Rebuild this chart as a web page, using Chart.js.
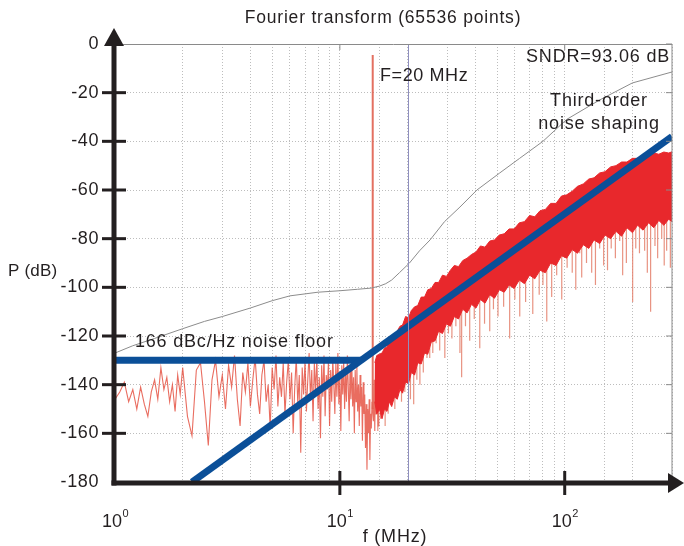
<!DOCTYPE html>
<html>
<head>
<meta charset="utf-8">
<script src="https://cdn.jsdelivr.net/npm/chart.js@4.4.1/dist/chart.umd.min.js"></script>
<style>
  html, body { margin: 0; padding: 0; background: #fff; }
  #wrap { width: 684px; height: 546px; }
</style>
</head>
<body>
<div id="wrap"><canvas id="grafico" width="684" height="546"></canvas></div>
<script>
// spectre basse fréquence (MHz, dB)
const lowFreq = [1.00, 1.05, 1.10, 1.15, 1.20, 1.25, 1.30, 1.35, 1.40, 1.45, 1.50, 1.55, 1.60, 1.65, 1.70, 1.75, 1.80, 1.85, 1.90, 1.95,
  2.0, 2.1, 2.2, 2.3, 2.4, 2.5, 2.6, 2.7, 2.8, 2.9, 3.0, 3.1, 3.2, 3.3, 3.4, 3.5, 3.6, 3.7, 3.8, 3.9,
  4.0, 4.1, 4.2, 4.3, 4.4, 4.5, 4.6, 4.7, 4.8, 4.9, 5.0, 5.1, 5.2, 5.3, 5.4, 5.5, 5.6, 5.7, 5.8, 5.9,
  6.0, 6.1, 6.2, 6.3, 6.4, 6.5, 6.6, 6.7, 6.8, 6.9, 7.0, 7.1, 7.2, 7.3, 7.4, 7.5, 7.6, 7.7, 7.8, 7.9,
  8.0, 8.1, 8.2, 8.3, 8.4, 8.5, 8.6, 8.7, 8.8, 8.9, 9.0, 9.1, 9.2, 9.3, 9.4, 9.5, 9.6, 9.7, 9.8, 9.9,
  10.0, 10.1, 10.2, 10.3, 10.4, 10.5, 10.6, 10.7, 10.8, 10.9, 11.0, 11.1, 11.2, 11.3, 11.4, 11.5, 11.6, 11.7, 11.8, 11.9,
  12.0, 12.1, 12.2, 12.3, 12.4, 12.5, 12.6, 12.7, 12.8, 12.9, 13.0, 13.1, 13.2, 13.3, 13.4, 13.5, 13.6, 13.7, 13.8, 13.9,
  14.1, 14.2, 14.3, 14.4, 14.5, 14.6, 14.7, 14.8, 14.9, 15.0, 15.1, 15.2, 15.3, 15.4, 15.5];
const lowDb = [-146, -143, -139, -147, -142, -150, -141, -148, -153, -143, -138, -146, -133, -142, -137, -147, -140, -151, -136, -144,
  -133, -153, -161, -134, -131, -147, -165, -138, -130, -145, -136, -150, -132, -141, -128, -146, -157, -135, -143, -131,
  -149, -138, -129, -144, -152, -136, -130, -147, -140, -158, -133, -142, -128, -149, -137, -145, -131, -152, -139, -130,
  -146, -135, -160, -141, -129, -148, -136, -168, -133, -144, -130, -151, -138, -127, -146, -134, -155, -131, -143, -129,
  -150, -137, -162, -132, -145, -128, -153, -136, -142, -130, -157, -134, -147, -129, -140, -152, -131, -145, -127, -148,
  -136, -159, -132, -144, -130, -150, -135, -147, -128, -141, -155, -133, -146, -131, -149, -137, -160, -134, -147, -132,
  -151, -140, -157, -136, -149, -141, -163, -139, -152, -144, -166, -148, -175, -150, -160, -146, -171, -152, -158, -147,
  -155, -138, -159, -131, -152, -129, -147, -157, -128, -150, -134, -154, -127, -145, -150];

// raie du signal
const toneFreq = 14.0;
const toneDb = [-150, -4.5];

// bande de bruit haute fréquence : bord haut et bord bas
const bandFreq = [14.3, 14.6, 15.0, 15.4, 15.8, 16.2, 16.6, 17.0, 17.5, 18.0, 18.5, 19.0, 19.6, 20.2, 20.8, 21.5, 22.2, 23.0, 23.8, 24.6,
  25.5, 26.5, 27.5, 28.6, 29.8, 31, 32.3, 33.7, 35.2, 36.8, 38.5, 40.3, 42.2, 44.2, 46.4, 48.7, 51.2, 53.8, 56.6, 59.6,
  62.8, 66.2, 69.8, 73.6, 77.7, 82, 86.6, 91.5, 96.7, 102, 108, 114, 121, 128, 135, 143, 151, 160, 169, 179,
  189, 200, 211, 223, 236, 249, 262, 276, 290, 300];
const bandTop = [-131, -128, -127.5, -127, -125, -124.5, -121, -121.5, -119, -118, -116, -115.5, -112, -112.5, -109.5, -108, -107.5, -104, -104, -101,
  -100.5, -98, -98, -95, -95.5, -93, -91, -91.5, -89, -88, -86.5, -85.5, -83, -83.5, -81, -80.5, -78.5, -78, -76, -76,
  -73.5, -73, -70.5, -71, -68.5, -68, -65.5, -65.5, -62.5, -62, -60.5, -58.5, -57.5, -55.5, -55, -53, -52.5, -50.5, -50, -48.5,
  -48.5, -47, -47, -45.8, -46, -44.8, -45.3, -44.4, -44.8, -44.3];
const bandBottom = [-147, -152, -150, -154, -150, -151, -147, -149, -145, -146, -142, -143.5, -139, -139.5, -135, -136, -131, -131.5, -127, -127.5,
  -122.5, -122, -118, -119, -115, -116, -112, -113, -109, -110.5, -107, -108.5, -105, -106.5, -103, -104.5, -101, -102, -99, -100.5,
  -97, -98.5, -95, -96.5, -93, -94, -90, -91, -87, -88, -84.5, -86, -82.5, -84, -80.5, -82, -78.5, -80, -77, -79,
  -75.5, -77.5, -74.5, -76.5, -73.5, -75.5, -72.5, -74.5, -72, -73];

// creux isolés sous la bande
const spikeFreq = [14.75, 15.9, 16.4, 17.56, 17.9, 18.8, 19.45, 20.6, 21.3, 22.0, 22.7, 23.5, 24.4, 25.1, 25.9, 26.8, 27.8, 29.3, 30.4, 31.5,
  32.8, 34.2, 34.8, 36.2, 37.8, 39.6, 41.9, 44.0, 46.4, 48.2, 50.5, 53.5, 56.9, 60.0, 63.1, 67.0, 72.1, 77.0, 80.0, 83.2,
  87.5, 92.1, 97.0, 102.5, 108, 112, 116.6, 119, 125, 131.8, 137, 143, 149, 155, 161, 168, 175.6, 181, 188, 200.5,
  207, 215, 226.7, 233, 241, 246, 252, 259, 270, 277, 284, 295];
const spikeTop = [-150, -148, -146, -140, -140, -138, -135, -132, -130, -128, -126, -124, -122, -120, -118, -116, -114, -112, -110, -109,
  -108, -106, -106, -105, -104, -102, -101, -100, -98, -97, -97, -96, -95, -94, -93, -92, -90, -89, -88, -87,
  -86, -85, -83, -82, -81, -80, -79, -79, -78, -77, -76, -76, -75, -75, -74, -74, -73, -73, -72, -71,
  -71, -70, -70, -69, -69, -69, -68, -68, -68, -68, -68, -67];
const spikeLow = [-159, -157, -152, -150, -144, -147, -143, -146, -148, -138, -140, -135, -129, -129, -127, -123, -126, -129, -119, -121,
  -116, -127, -137, -116, -122, -113, -125, -115, -118, -109, -112, -108, -121, -105, -112, -106, -111, -103, -99, -114,
  -104, -95, -105, -92, -94, -101, -86, -96, -90, -94, -99, -84, -91, -93, -84, -88, -81, -95, -90, -106,
  -84, -86, -85, -94, -110, -75, -83, -88, -80, -91, -85, -92];

// bruit intégré (courbe grise)
const sumFreq = [1.0, 1.2, 1.5, 2.0, 2.5, 3.0, 4.0, 5.0, 6.0, 8.0, 10, 12, 13.8, 15, 16, 17, 18.4, 20.4, 22.6, 25.2,
  29.2, 34.2, 40.7, 51.4, 63, 80, 102, 143, 200, 300];
const sumDb = [-127, -124, -121, -117, -114, -112, -108.5, -105.5, -103.5, -102, -101.4, -100.8, -100.3, -99.5, -98.5, -97, -94, -90, -85, -80.5,
  -73, -67, -60, -53, -47, -40, -31, -23, -16, -11.5];

// asymptotes
const floorFreq = [1, 12.4];
const floorDb = [-130, -130];
const shapeFreq = [2.2, 300];
const shapeDb = [-180, -38];

const markerFreq = 20;
const yTicks = [0, -20, -40, -60, -80, -100, -120, -140, -160, -180];

const FONT = '"Liberation Sans", Arial, sans-serif';

function pts(xs, ys) {
  return xs.map((v, i) => ({ x: v, y: ys[i] }));
}

function spikePts() {
  const out = [];
  spikeFreq.forEach((f, i) => {
    out.push({ x: f, y: spikeTop[i] }, { x: f, y: spikeLow[i] }, { x: f, y: null });
  });
  return out;
}

function texto(ctx, s, x, y, align, size, esp) {
  ctx.font = size + 'px ' + FONT;
  ctx.letterSpacing = (esp || 0) + 'px';
  ctx.textAlign = align;
  ctx.textBaseline = 'middle';
  ctx.fillStyle = '#231f20';
  ctx.fillText(s, x, y);
  ctx.letterSpacing = '0px';
}

const decor = {
  id: 'decor',
  afterDatasetsDraw(chart) {
    const { ctx, chartArea: a, scales: { x } } = chart;
    const xm = Math.round(x.getPixelForValue(markerFreq)) + 0.5;
    ctx.save();
    ctx.strokeStyle = '#8f8fbf';
    ctx.lineWidth = 1;
    ctx.beginPath();
    ctx.moveTo(xm, a.top);
    ctx.lineTo(xm, a.bottom);
    ctx.stroke();
    ctx.restore();
  },
  afterDraw(chart) {
    const { ctx, chartArea: a, scales: { x, y } } = chart;
    ctx.save();
    // cadre gris haut / droite
    ctx.strokeStyle = '#8a8a8a';
    ctx.lineWidth = 1;
    ctx.beginPath();
    ctx.moveTo(a.left, a.top + 0.5);
    ctx.lineTo(a.right, a.top + 0.5);
    ctx.lineTo(a.right, a.bottom);
    ctx.stroke();
    yTicks.forEach(v => {
      const py = y.getPixelForValue(v);
      ctx.beginPath();
      ctx.moveTo(a.right - 6, py);
      ctx.lineTo(a.right, py);
      ctx.stroke();
    });
    [10, 100].forEach(v => {
      const px = x.getPixelForValue(v);
      ctx.beginPath();
      ctx.moveTo(px, a.top);
      ctx.lineTo(px, a.top + 6);
      ctx.stroke();
    });

    // axes noirs avec flèches
    ctx.fillStyle = '#231f20';
    ctx.strokeStyle = '#231f20';
    const ax = a.left - 1;
    const ay = a.bottom + 1;
    ctx.fillRect(ax - 2.5, 40, 5, ay - 40 + 2.5);
    ctx.fillRect(ax - 2.5, ay - 2.5, 672 - ax + 2.5, 5);
    ctx.beginPath();
    ctx.moveTo(ax, 28);
    ctx.lineTo(ax - 10, 46);
    ctx.lineTo(ax + 10, 46);
    ctx.closePath();
    ctx.fill();
    ctx.beginPath();
    ctx.moveTo(684, ay);
    ctx.lineTo(668, ay - 10);
    ctx.lineTo(668, ay + 10);
    ctx.closePath();
    ctx.fill();
    ctx.lineWidth = 3;
    yTicks.slice(1, -1).forEach(v => {
      const py = y.getPixelForValue(v);
      ctx.beginPath();
      ctx.moveTo(ax - 12, py);
      ctx.lineTo(ax + 12, py);
      ctx.stroke();
    });
    [10, 100].forEach(v => {
      const px = x.getPixelForValue(v);
      ctx.beginPath();
      ctx.moveTo(px, ay - 12);
      ctx.lineTo(px, ay + 12);
      ctx.stroke();
    });

    // étiquettes de l'axe y
    yTicks.forEach(v => {
      texto(ctx, String(v), 99, y.getPixelForValue(v), 'right', 18, 0.6);
    });

    // étiquettes de l'axe x : 10^n
    [[1, '0'], [10, '1'], [100, '2']].forEach(([v, e]) => {
      const px = x.getPixelForValue(v);
      ctx.font = '18px ' + FONT;
      const w1 = ctx.measureText('10').width;
      ctx.font = '11px ' + FONT;
      const w2 = ctx.measureText(e).width;
      const x0 = px - (w1 + w2) / 2;
      texto(ctx, '10', x0, 522, 'left', 18);
      texto(ctx, e, x0 + w1 + 0.5, 514, 'left', 11);
    });

    texto(ctx, 'Fourier transform (65536 points)', 383, 18, 'center', 17.5, 0.8);
    texto(ctx, 'P (dB)', 8, 271, 'left', 17, 0.2);
    texto(ctx, 'f (MHz)', 395, 537, 'center', 18, 0.8);
    texto(ctx, 'SNDR=93.06 dB', 670, 57, 'right', 18, 0.8);
    texto(ctx, 'F=20 MHz', 380, 76, 'left', 18, 0.6);
    texto(ctx, 'Third-order', 599, 101, 'center', 18, 0.8);
    texto(ctx, 'noise shaping', 599, 124, 'center', 18, 0.8);
    texto(ctx, '166 dBc/Hz noise floor', 135, 342, 'left', 18, 0.8);
    ctx.restore();
  }
};

const grafico = new Chart(document.getElementById('grafico').getContext('2d'), {
  type: 'line',
  data: {
    datasets: [
      { data: pts(shapeFreq, shapeDb), borderColor: '#0b4f98', borderWidth: 7, borderCapStyle: 'butt', order: 0 },
      { data: pts(floorFreq, floorDb), borderColor: '#0b4f98', borderWidth: 7, borderCapStyle: 'butt', order: 0 },
      { data: pts(sumFreq, sumDb), borderColor: '#8c8c8c', borderWidth: 1, order: 1 },
      { data: pts([toneFreq, toneFreq], toneDb), borderColor: 'rgba(224,96,80,0.9)', borderWidth: 2, order: 2 },
      { data: pts(bandFreq, bandBottom), borderColor: '#e8282c', borderWidth: 1, order: 3 },
      { data: pts(bandFreq, bandTop), borderColor: '#e8282c', borderWidth: 1, backgroundColor: '#e8282c', fill: '-1', order: 3 },
      { data: spikePts(), borderColor: 'rgba(228,128,108,0.85)', borderWidth: 1.2, spanGaps: false, order: 4 },
      { data: pts(lowFreq, lowDb), borderColor: 'rgba(228,72,56,0.8)', borderWidth: 1.1, order: 5 }
    ]
  },
  options: {
    responsive: false,
    animation: false,
    events: [],
    elements: { point: { radius: 0 }, line: { tension: 0 } },
    layout: { padding: { left: 0, right: 12, top: 44, bottom: 0 } },
    plugins: { legend: { display: false }, tooltip: { enabled: false }, title: { display: false } },
    scales: {
      x: {
        type: 'logarithmic', min: 1, max: 300,
        afterFit: s => { s.height = 64; },
        ticks: { display: false, autoSkip: false },
        grid: { color: '#bdbdbd', lineWidth: 1, drawTicks: false },
        border: { display: false, dash: [1, 2] }
      },
      y: {
        min: -180, max: 0,
        afterFit: s => { s.width = 115; },
        ticks: { display: false, stepSize: 20 },
        grid: { color: '#bdbdbd', lineWidth: 1, drawTicks: false },
        border: { display: false, dash: [1, 2] }
      }
    }
  },
  plugins: [decor]
});
</script>
</body>
</html>
